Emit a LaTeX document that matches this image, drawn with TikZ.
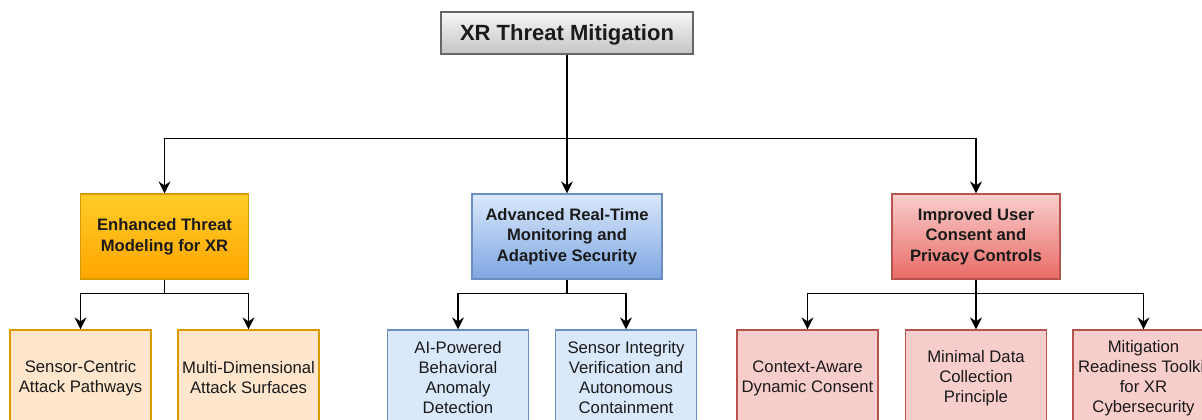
\documentclass[tikz,border=0pt]{standalone}
\usepackage{fontspec}
\setmainfont{Liberation Sans}
\usetikzlibrary{arrows.meta,positioning,calc}

\definecolor{ttop}{HTML}{F7F7F7}
\definecolor{tbot}{HTML}{C4C4C4}
\definecolor{tline}{HTML}{666666}
\definecolor{otop}{HTML}{FFCD28}
\definecolor{obot}{HTML}{FFA500}
\definecolor{oline}{HTML}{D79B00}
\definecolor{ofill}{HTML}{FFE6CC}
\definecolor{btop}{HTML}{DAE8FC}
\definecolor{bbot}{HTML}{7EA6E0}
\definecolor{bline}{HTML}{6C8EBF}
\definecolor{bfill}{HTML}{DAE8FC}
\definecolor{rtop}{HTML}{F8CECC}
\definecolor{rbot}{HTML}{EA6B66}
\definecolor{rline}{HTML}{B85450}
\definecolor{rfill}{HTML}{F8CECC}
\definecolor{txt}{HTML}{1A1A1A}

\tikzset{
  box/.style={rectangle, inner sep=0pt, align=center, line width=1.2pt, text=txt},
  titlebox/.style={box, minimum width=252pt, minimum height=42pt,
    top color=ttop, bottom color=tbot, draw=tline,
    text height=16pt, text depth=0pt,
    font=\fontsize{22}{26}\selectfont\bfseries},
  midbox/.style={box, minimum height=85pt,
    font=\fontsize{16.6}{20.5}\selectfont\bfseries},
  leafbox/.style={box, minimum width=141pt, minimum height=96pt,
    font=\fontsize{16.7}{20}\selectfont},
  obox/.style={midbox, minimum width=168pt, top color=otop, bottom color=obot, draw=oline},
  bbox/.style={midbox, minimum width=190pt, top color=btop, bottom color=bbot, draw=bline},
  rbox/.style={midbox, minimum width=168pt, top color=rtop, bottom color=rbot, draw=rline},
  oleaf/.style={leafbox, fill=ofill, draw=oline},
  bleaf/.style={leafbox, fill=bfill, draw=bline},
  rleaf/.style={leafbox, fill=rfill, draw=rline},
  arr/.style={line width=1.3pt, draw=black, -{Stealth[length=12pt,width=12pt,inset=4pt]}}
}

\begin{document}
\begin{tikzpicture}[x=1pt,y=-1pt]
  \useasboundingbox (0,0) rectangle (1202,420);
  \clip (0,0) rectangle (1202,420);
  \fill[white] (0,0) rectangle (1202,420);

  % root
  \node[titlebox] (root) at (567,33) {XR Threat Mitigation};

  % second level
  \node[obox] (model) at (164.5,236.5) {Enhanced Threat\\Modeling for XR};
  \node[bbox] (monitor) at (567,236.5) {Advanced Real-Time\\Monitoring and\\Adaptive Security};
  \node[rbox] (consent) at (976,236.5) {Improved User\\Consent and\\Privacy Controls};

  % third level
  \node[oleaf] (sensor) at (80.5,378) {Sensor-Centric\\Attack Pathways};
  \node[oleaf] (multi) at (248.5,378) {Multi-Dimensional\\Attack Surfaces};
  \node[bleaf] (anomaly) at (458,378) {AI-Powered\\Behavioral\\Anomaly\\Detection};
  \node[bleaf] (integrity) at (626,378) {Sensor Integrity\\Verification and\\Autonomous\\Containment};
  \node[rleaf] (context) at (807.5,378) {Context-Aware\\Dynamic Consent};
  \node[rleaf] (minimal) at (976,378) {Minimal Data\\Collection\\Principle};
  \node[rleaf] (toolkit) at (1143.5,378) {Mitigation\\Readiness Toolkit\\for XR\\Cybersecurity};

  % root connectors
  \draw[arr] (root.south) -- (monitor.north);
  \draw[arr] (root.south) |- ([yshift=55pt]model.north) -- (model.north);
  \draw[arr] (root.south) |- ([yshift=55pt]consent.north) -- (consent.north);

  % second-level connectors
  \foreach \p/\c in {model/sensor, model/multi, monitor/anomaly, monitor/integrity,
                     consent/context, consent/minimal, consent/toolkit}
    \draw[arr] (\p.south) |- ([yshift=36pt]\c.north) -- (\c.north);
\end{tikzpicture}
\end{document}
